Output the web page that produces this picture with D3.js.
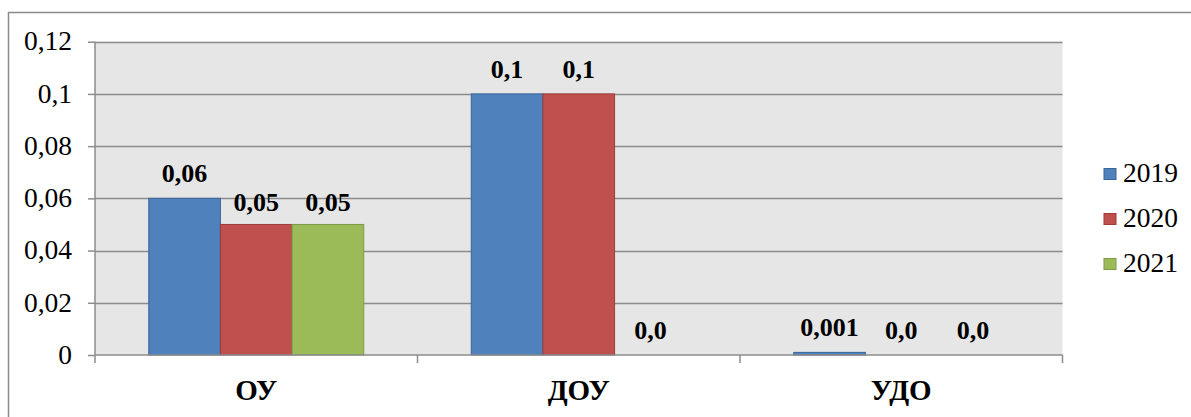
<!DOCTYPE html>
<html><head><meta charset="utf-8">
<script src="https://cdn.jsdelivr.net/npm/d3@7"></script>
<style>body{margin:0;background:#fff}svg{display:block}svg text{font-family:"Liberation Serif","Times New Roman",serif}</style>
</head><body>
<script>
const categories = ["ОУ", "ДОУ", "УДО"];
const seriesNames = ["2019", "2020", "2021"];
const values2019 = [0.06, 0.1, 0.001];
const values2020 = [0.05, 0.1, 0];
const values2021 = [0.05, 0, 0];
const labels2019 = ["0,06", "0,1", "0,001"];
const labels2020 = ["0,05", "0,1", "0,0"];
const labels2021 = ["0,05", "0,0", "0,0"];
const yTicks = [0, 0.02, 0.04, 0.06, 0.08, 0.1, 0.12];
const yTickLabels = ["0", "0,02", "0,04", "0,06", "0,08", "0,1", "0,12"];
const colors = ["#4F81BD", "#C0504D", "#9BBB59"];
const strokes = ["#3B6699", "#9B3C39", "#7D9B46"];

(function () {
const series = [values2019, values2020, values2021];
const seriesLabels = [labels2019, labels2020, labels2021];

const W = 1191, H = 417;
const svg = d3.select("body").append("svg").attr("width", W).attr("height", H);

svg.append("rect").attr("x", 8.5).attr("y", 12.5).attr("width", 1210).attr("height", 430)
  .attr("fill", "#fff").attr("stroke", "#8a8a8a").attr("stroke-width", 1.5);

const pL = 95, pR = 1062.5, pT = 41.7, pB = 355;
const x0 = d3.scaleBand().domain(categories).range([pL, pR]).paddingInner(0).paddingOuter(0);
const x1 = d3.scaleBand().domain(seriesNames).range([0, x0.bandwidth()]).paddingInner(0).paddingOuter(0.75);
const y = d3.scaleLinear().domain([0, 0.12]).range([pB, pT]);

svg.append("rect").attr("x", pL).attr("y", pT).attr("width", pR - pL).attr("height", pB - pT)
  .attr("fill", "#E6E6E6");

// gridlines
svg.append("g").selectAll("line").data(yTicks.filter(d => d > 0)).join("line")
  .attr("x1", pL).attr("x2", pR).attr("y1", d => Math.round(y(d)) + 0.5).attr("y2", d => Math.round(y(d)) + 0.5)
  .attr("stroke", "#8c8c8c").attr("stroke-width", 1.3);

// y axis
const yAxis = d3.axisLeft(y).tickValues(yTicks).tickSize(7).tickPadding(16)
  .tickFormat((d, i) => yTickLabels[i]);
const gy = svg.append("g").attr("transform", `translate(${pL},0)`).call(yAxis);
gy.attr("font-family", null).attr("font-size", null);
gy.selectAll("path,line").attr("stroke", "#8c8c8c").attr("stroke-width", 1.5);
gy.select("path").attr("d", `M0,${pT}V${pB}`);
gy.selectAll("text").attr("font-size", 27.5).attr("fill", "#000").attr("dy", "0.3em");

// bars
categories.forEach((c, ci) => {
  series.forEach((vals, si) => {
    const v = vals[ci];
    const bx = x0(c) + x1(seriesNames[si]);
    const bw = x1.bandwidth();
    if (v > 0) {
      svg.append("rect").attr("x", bx).attr("y", y(v)).attr("width", bw)
        .attr("height", Math.max(1.5, pB - y(v)))
        .attr("fill", colors[si]).attr("stroke", strokes[si]).attr("stroke-width", 1);
    }
  });
});

// x axis
const xAxis = d3.axisBottom(x0).tickSize(0).tickPadding(0).tickFormat("");
const gx = svg.append("g").attr("transform", `translate(0,${pB})`).call(xAxis);
gx.select("path").attr("d", `M${pL},0H${pR}`).attr("stroke", "#8c8c8c").attr("stroke-width", 1.5);
svg.append("g").selectAll("line").data([pL, x0("ДОУ"), x0("УДО"), pR]).join("line")
  .attr("x1", d => d).attr("x2", d => d).attr("y1", pB).attr("y2", pB + 8)
  .attr("stroke", "#8c8c8c").attr("stroke-width", 1.5);
svg.append("g").selectAll("text").data(categories).join("text")
  .attr("x", d => x0(d) + x0.bandwidth() / 2).attr("y", 400)
  .attr("text-anchor", "middle").attr("font-weight", "bold")
  .attr("font-size", 29).text(d => d);

// data labels
categories.forEach((c, ci) => {
  series.forEach((vals, si) => {
    const v = vals[ci];
    const bx = x0(c) + x1(seriesNames[si]) + x1.bandwidth() / 2;
    const off = (ci === 0 && si > 0) ? 13 : 16;
    svg.append("text").attr("x", bx).attr("y", y(v) - off)
      .attr("text-anchor", "middle").attr("font-weight", "bold")
      .attr("font-size", 26).text(seriesLabels[si][ci]);
  });
});

// legend
const lg = svg.append("g");
seriesNames.forEach((s, i) => {
  const cy = 174 + i * 45;
  lg.append("rect").attr("x", 1104).attr("y", cy - 5.5).attr("width", 12).attr("height", 11)
    .attr("fill", colors[i]).attr("stroke", strokes[i]).attr("stroke-width", 1);
  lg.append("text").attr("x", 1123).attr("y", cy + 8)
    .attr("font-size", 27.5).text(s);
});
})();
</script>
</body></html>
